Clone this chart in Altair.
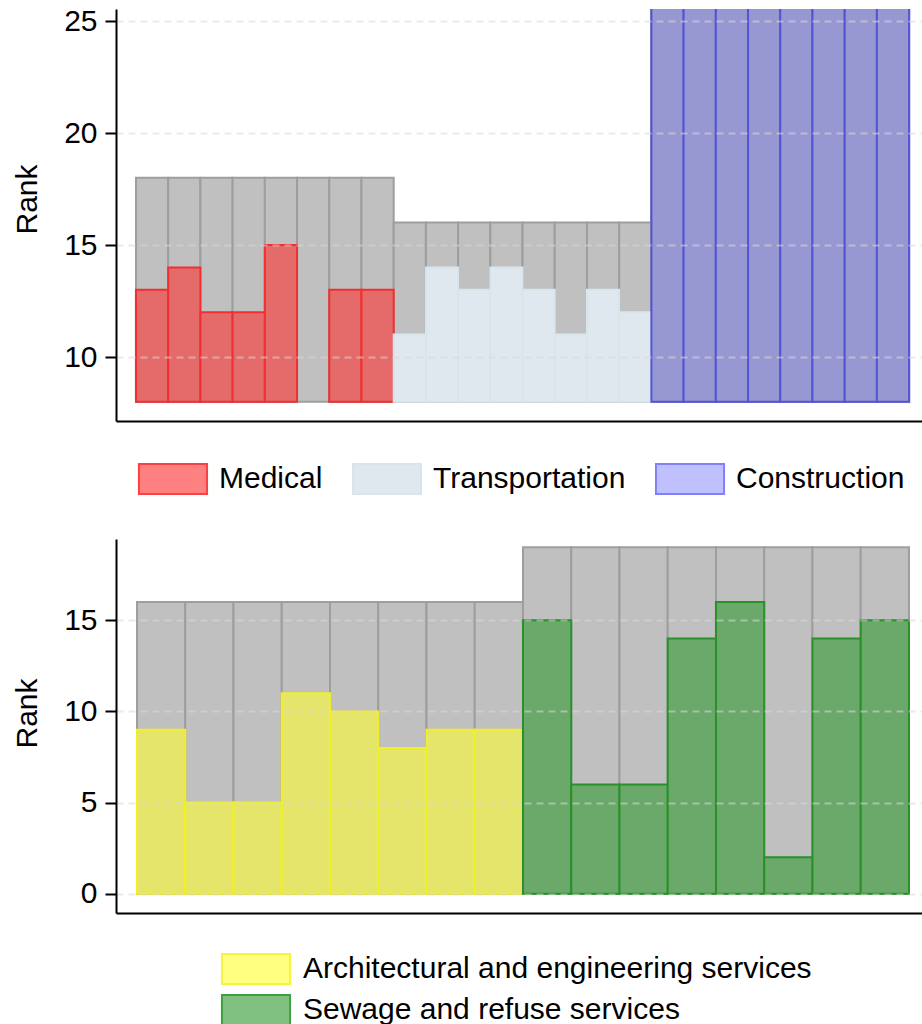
import altair as alt
import pandas as pd

# ---------------- data ----------------
top_groups = ["Medical", "Transportation", "Construction"]
medical_values = [13, 14, 12, 12, 15, None, 13, 13]
transport_values = [11, 14, 13, 14, 13, 11, 13, 12]
construction_values = [26, 26, 26, 26, 26, 26, 26, 26]
top_maxima = [18, 16, 26]
top_baseline = 8
top_ticks = [10, 15, 20, 25]

bottom_groups = ["Architectural and engineering services", "Sewage and refuse services"]
arch_values = [9, 5, 5, 11, 10, 8, 9, 9]
sewage_values = [15, 6, 6, 14, 16, 2, 14, 15]
bottom_maxima = [16, 19]
bottom_baseline = 0
bottom_ticks = [0, 5, 10, 15]

# ---------------- styles ----------------
top_bar_fill = ["#e56b6b", "#dfe8ee", "#9797d2"]
top_bar_stroke = ["#f03030", "#d9e5eb", "#5454d4"]
top_legend_fill = ["#ff8080", "#dfe8ee", "#c0c0ff"]
top_legend_stroke = ["#ff4040", "#d9e5eb", "#8080ff"]
bottom_bar_fill = ["#e5e56b", "#6aa96a"]
bottom_bar_stroke = ["#f0f028", "#2a902a"]
bottom_legend_fill = ["#ffff80", "#80c080"]
bottom_legend_stroke = ["#f5f540", "#40a040"]

FONT = "Liberation Sans"
SWATCH = "M-2.27,-1H2.27V1H-2.27Z"


def build(groups, series, maxima, base):
    rows = []
    pos = 0
    for g, vals, mx in zip(groups, series, maxima):
        for v in vals:
            rows.append({"group": g, "pos": pos, "pos_end": pos + 1,
                         "base": base, "max": mx, "value": v})
            pos += 1
    return pd.DataFrame(rows)


def panel(df, groups, bar_fill, bar_stroke, leg_fill, leg_stroke,
          xdom, ydom, yticks, width, height, legend, title_y):
    x = alt.X("pos:Q", scale=alt.Scale(domain=xdom, nice=False, zero=False),
              axis=alt.Axis(title=None, labels=False, ticks=False, grid=False,
                            domainColor="black", domainWidth=2))
    x2 = alt.X2("pos_end:Q")
    y = alt.Y("base:Q", scale=alt.Scale(domain=ydom, nice=False, zero=False),
              axis=alt.Axis(title="Rank", values=yticks, labelFont=FONT,
                            labelFontSize=30, labelColor="black", labelPadding=8,
                            tickSize=11, tickWidth=2, tickColor="black",
                            domainColor="black", domainWidth=2,
                            grid=True, gridColor="#d8d8d8", gridOpacity=0.55,
                            gridDash=[7, 5], gridWidth=2, zindex=1,
                            titleFont=FONT, titleFontSize=30,
                            titleFontWeight="normal", titleColor="black",
                            titleAngle=270, titleBaseline="alphabetic",
                            titleX=-80, titleY=title_y, titleAlign="center"))
    base = alt.Chart(df)
    valid = base.transform_filter("isValid(datum.value)")
    legend_layer = valid.mark_bar(strokeWidth=2, clip=True).encode(
        x=x, x2=x2, y=y, y2=alt.Y2("value:Q"),
        fill=alt.Fill("group:N", scale=alt.Scale(domain=groups, range=leg_fill),
                      legend=legend),
        stroke=alt.Stroke("group:N", scale=alt.Scale(domain=groups, range=leg_stroke),
                          legend=legend),
    )
    grey = base.mark_bar(fill="#c0c0c0", stroke="#9e9e9e", strokeWidth=2,
                         clip=True).encode(x=x, x2=x2, y=y, y2=alt.Y2("max:Q"))
    colored = valid.mark_bar(strokeWidth=2, clip=True).encode(
        x=x, x2=x2, y=y, y2=alt.Y2("value:Q"),
        fill=alt.Fill("group:N", scale=alt.Scale(domain=groups, range=bar_fill),
                      legend=None),
        stroke=alt.Stroke("group:N", scale=alt.Scale(domain=groups, range=bar_stroke),
                          legend=None),
    )
    return alt.layer(legend_layer, grey, colored).resolve_scale(
        fill="independent", stroke="independent"
    ).properties(width=width, height=height)


top_df = build(top_groups, [medical_values, transport_values, construction_values],
               top_maxima, top_baseline)
bottom_df = build(bottom_groups, [arch_values, sewage_values], bottom_maxima,
                  bottom_baseline)

top_legend = alt.Legend(title=None, orient="none", legendX=23, legendY=454,
                        direction="horizontal", columns=3, symbolType=SWATCH,
                        symbolSize=900, symbolStrokeWidth=2, symbolOffset=18,
                        labelOffset=30, labelFont=FONT, labelFontSize=30,
                        labelColor="black", labelLimit=1000, columnPadding=25,
                        padding=0, symbolOpacity=1)
bottom_legend = alt.Legend(title=None, orient="none", legendX=106, legendY=414,
                           direction="vertical", columns=1, symbolType=SWATCH,
                           symbolSize=900, symbolStrokeWidth=2, symbolOffset=18,
                           labelOffset=31, labelFont=FONT, labelFontSize=30,
                           labelColor="black", labelLimit=1000, rowPadding=3,
                           padding=0, symbolOpacity=1)

top = panel(top_df, top_groups, top_bar_fill, top_bar_stroke, top_legend_fill,
            top_legend_stroke, [-0.62, 24.4], [7.143, 25.536], top_ticks,
            806, 412, top_legend, 190)
bottom = panel(bottom_df, bottom_groups, bottom_bar_fill, bottom_bar_stroke,
               bottom_legend_fill, bottom_legend_stroke, [-0.435, 16.27],
               [-1.05, 19.45], bottom_ticks, 806, 374, bottom_legend, 174)

chart = alt.vconcat(top, bottom, spacing=41).resolve_scale(
    fill="independent", stroke="independent", x="independent", y="independent"
).resolve_legend(fill="independent", stroke="independent").properties(
    padding={"left": 12, "top": 6, "right": 0, "bottom": 0},
    background="white",
).configure_view(stroke=None, strokeWidth=0)

chart.save("out.html", embed_options={"renderer": "svg", "actions": False})
